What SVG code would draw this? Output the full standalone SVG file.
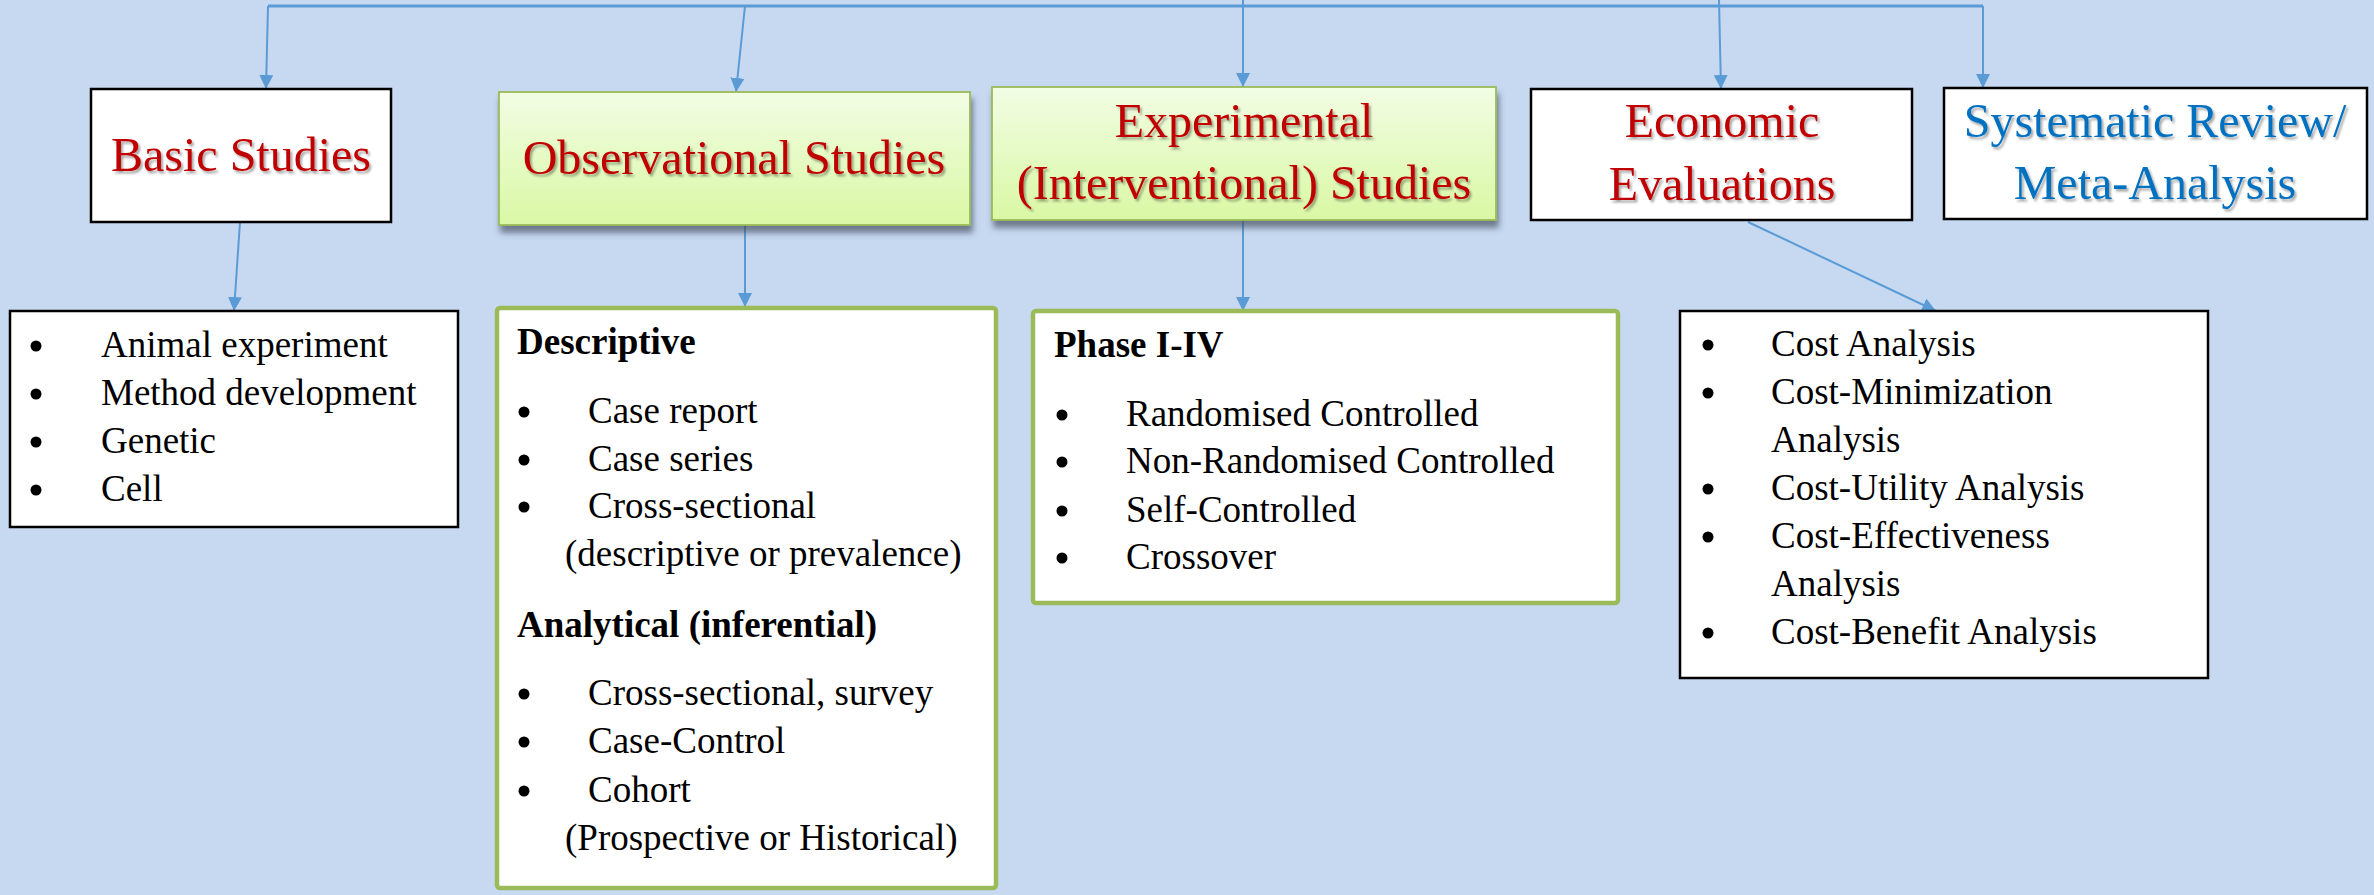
<svg xmlns="http://www.w3.org/2000/svg" width="2374" height="895" viewBox="0 0 2374 895">
  <style>
    .title { font-family: "Liberation Serif", "Times New Roman", serif; font-size: 48px; text-anchor: middle; }
    .red { fill: #c00000; }
    .blue { fill: #0070c0; }
    .item { font-family: "Liberation Serif", "Times New Roman", serif; font-size: 37px; fill: #000; }
    .head { font-weight: bold; }
    .dot { fill: #000; }
    .plain { fill: #ffffff; stroke: #000; stroke-width: 2.5; }
    .green { fill: url(#greenFill); stroke: #9bbb59; stroke-width: 1.8; }
    .list-green { fill: #ffffff; stroke: #9bbb59; stroke-width: 4.5; }
    .conn { fill: none; stroke: #5b9bd5; stroke-width: 2; }
    .bus { fill: none; stroke: #5b9bd5; stroke-width: 3; }
  </style>
  <defs>
    <linearGradient id="greenFill" x1="0" y1="0" x2="0" y2="1">
      <stop offset="0" stop-color="#f2fde4"/>
      <stop offset="1" stop-color="#d9f8a4"/>
    </linearGradient>
    <filter id="boxShadow" x="-5%" y="-5%" width="115%" height="125%">
      <feDropShadow dx="2" dy="7" stdDeviation="3" flood-color="#3e4756" flood-opacity="0.65"/>
    </filter>
    <filter id="textShadow" x="-5%" y="-20%" width="115%" height="150%">
      <feDropShadow dx="2" dy="2.5" stdDeviation="1.2" flood-color="#000" flood-opacity="0.35"/>
    </filter>
    <marker id="arrow" markerUnits="userSpaceOnUse" markerWidth="14" markerHeight="14" refX="14" refY="7" orient="auto">
      <path d="M0,0 L14,7 L0,14 z" fill="#5b9bd5"/>
    </marker>
  </defs>

  <rect width="2374" height="895" fill="#c6d9f1"/>

  <!-- connectors -->
  <g id="connectors">
    <path class="bus" d="M268,6 H1983"/>
    <path class="conn" d="M1243,0 V6"/>
    <path class="conn" d="M268,6 L266,89" marker-end="url(#arrow)"/>
    <path class="conn" d="M745,6 L736,92" marker-end="url(#arrow)"/>
    <path class="conn" d="M1243,6 V87" marker-end="url(#arrow)"/>
    <path class="conn" d="M1719,0 L1721,89" marker-end="url(#arrow)"/>
    <path class="conn" d="M1983,6 V88" marker-end="url(#arrow)"/>
    <path class="conn" d="M240,222 L234,311" marker-end="url(#arrow)"/>
    <path class="conn" d="M745,219 V307" marker-end="url(#arrow)"/>
    <path class="conn" d="M1243,220 V311" marker-end="url(#arrow)"/>
    <path class="conn" d="M1748,222 L1936,311" marker-end="url(#arrow)"/>
  </g>

  <!-- top row -->
  <g id="basic-studies">
    <rect class="plain" x="91" y="89" width="300" height="133"/>
    <text class="title red" x="241" y="171" filter="url(#textShadow)">Basic Studies</text>
  </g>

  <g id="observational-studies">
    <rect class="green" x="499" y="92" width="471" height="133" filter="url(#boxShadow)"/>
    <text class="title red" x="734" y="174" filter="url(#textShadow)">Observational Studies</text>
  </g>

  <g id="experimental-studies">
    <rect class="green" x="992" y="87" width="504" height="133" filter="url(#boxShadow)"/>
    <text class="title red" x="1244" y="137" filter="url(#textShadow)">Experimental</text>
    <text class="title red" x="1244" y="199" filter="url(#textShadow)">(Interventional) Studies</text>
  </g>

  <g id="economic-evaluations">
    <rect class="plain" x="1531" y="89" width="381" height="131"/>
    <text class="title red" x="1722" y="137" filter="url(#textShadow)">Economic</text>
    <text class="title red" x="1722" y="200" filter="url(#textShadow)">Evaluations</text>
  </g>

  <g id="systematic-review">
    <rect class="plain" x="1944" y="88" width="423" height="131"/>
    <text class="title blue" x="2155" y="137" filter="url(#textShadow)">Systematic Review/</text>
    <text class="title blue" x="2155" y="199" filter="url(#textShadow)">Meta-Analysis</text>
  </g>

  <!-- detail lists; bullet dots sit 11px above each baseline -->
  <g id="basic-list">
    <rect class="plain" x="10" y="311" width="448" height="216"/>
    <circle class="dot" cx="36" cy="346" r="5.5"/><text class="item" x="101" y="357">Animal experiment</text>
    <circle class="dot" cx="36" cy="394" r="5.5"/><text class="item" x="101" y="405">Method development</text>
    <circle class="dot" cx="36" cy="442" r="5.5"/><text class="item" x="101" y="453">Genetic</text>
    <circle class="dot" cx="36" cy="490" r="5.5"/><text class="item" x="101" y="501">Cell</text>
  </g>

  <g id="observational-list">
    <rect class="list-green" x="497" y="308" width="499" height="580" rx="3"/>
    <text class="item head" x="517" y="354">Descriptive</text>
    <circle class="dot" cx="524" cy="412" r="5.5"/><text class="item" x="588" y="423">Case report</text>
    <circle class="dot" cx="524" cy="460" r="5.5"/><text class="item" x="588" y="471">Case series</text>
    <circle class="dot" cx="524" cy="507" r="5.5"/><text class="item" x="588" y="518">Cross-sectional</text>
    <text class="item" x="565" y="566">(descriptive or prevalence)</text>
    <text class="item head" x="517" y="637">Analytical (inferential)</text>
    <circle class="dot" cx="524" cy="694" r="5.5"/><text class="item" x="588" y="705">Cross-sectional, survey</text>
    <circle class="dot" cx="524" cy="742" r="5.5"/><text class="item" x="588" y="753">Case-Control</text>
    <circle class="dot" cx="524" cy="791" r="5.5"/><text class="item" x="588" y="802">Cohort</text>
    <text class="item" x="565" y="850">(Prospective or Historical)</text>
  </g>

  <g id="experimental-list">
    <rect class="list-green" x="1033" y="311" width="585" height="292" rx="3"/>
    <text class="item head" x="1054" y="357">Phase I-IV</text>
    <circle class="dot" cx="1062" cy="415" r="5.5"/><text class="item" x="1126" y="426">Randomised Controlled</text>
    <circle class="dot" cx="1062" cy="462" r="5.5"/><text class="item" x="1126" y="473">Non-Randomised Controlled</text>
    <circle class="dot" cx="1062" cy="511" r="5.5"/><text class="item" x="1126" y="522">Self-Controlled</text>
    <circle class="dot" cx="1062" cy="558" r="5.5"/><text class="item" x="1126" y="569">Crossover</text>
  </g>

  <g id="economic-list">
    <rect class="plain" x="1680" y="311" width="528" height="367"/>
    <circle class="dot" cx="1708" cy="345" r="5.5"/><text class="item" x="1771" y="356">Cost Analysis</text>
    <circle class="dot" cx="1708" cy="393" r="5.5"/><text class="item" x="1771" y="404">Cost-Minimization</text>
    <text class="item" x="1771" y="452">Analysis</text>
    <circle class="dot" cx="1708" cy="489" r="5.5"/><text class="item" x="1771" y="500">Cost-Utility Analysis</text>
    <circle class="dot" cx="1708" cy="537" r="5.5"/><text class="item" x="1771" y="548">Cost-Effectiveness</text>
    <text class="item" x="1771" y="596">Analysis</text>
    <circle class="dot" cx="1708" cy="633" r="5.5"/><text class="item" x="1771" y="644">Cost-Benefit Analysis</text>
  </g>
</svg>
